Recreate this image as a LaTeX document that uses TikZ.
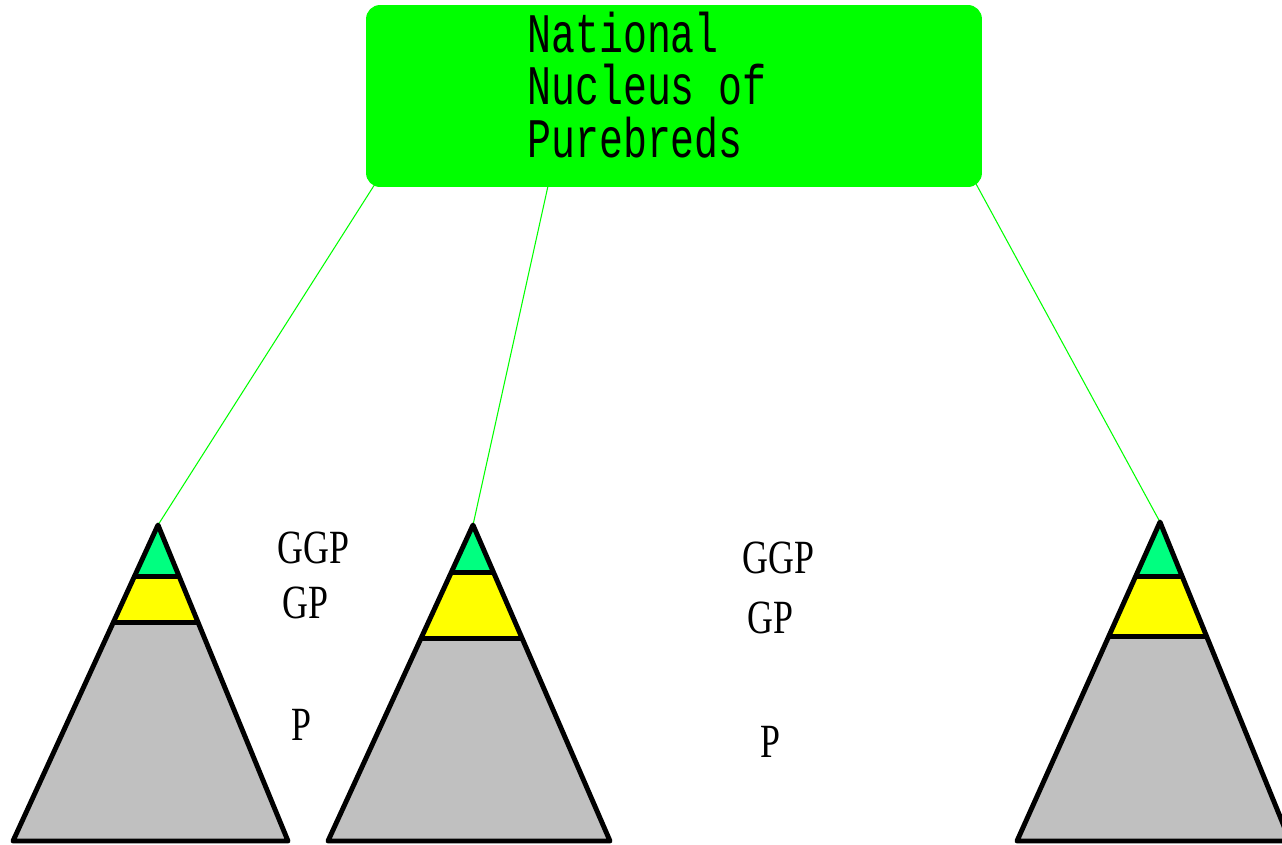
\documentclass[tikz,border=0pt]{standalone}
\usepackage{fontspec}
\setmainfont{Liberation Serif}
\newfontfamily\monof{Liberation Mono}
\usetikzlibrary{calc}
\definecolor{pgreen}{RGB}{0,255,0}
\definecolor{sgreen}{RGB}{0,255,128}
\definecolor{pyellow}{RGB}{255,255,0}
\definecolor{pgray}{RGB}{192,192,192}
\newcommand\pyramid[5]{%
  \fill[pgray] (#2) -- (#3) -- (#1) -- cycle;
  \fill[pyellow] ($(#1)!#5!(#2)$) -- ($(#1)!#5!(#3)$) -- (#1) -- cycle;
  \fill[sgreen] ($(#1)!#4!(#2)$) -- ($(#1)!#4!(#3)$) -- (#1) -- cycle;
  \draw[outline] ($(#1)!#4!(#2)$) -- ($(#1)!#4!(#3)$);
  \draw[outline] ($(#1)!#5!(#2)$) -- ($(#1)!#5!(#3)$);
  \draw[outline] (#1) -- (#2) -- (#3) -- cycle;
}
\begin{document}
\begin{tikzpicture}[x=0.02cm,y=-0.02cm,
  nucleus/.style={fill=pgreen, draw=none, rounded corners=0.28cm, minimum width=12.32cm, minimum height=3.64cm, inner sep=0pt},
  link/.style={draw=pgreen, line width=0.6pt},
  outline/.style={draw=black, line width=2.8pt, line join=round},
  boxtext/.style={font=\monof\fontsize{22.7}{27}\selectfont, anchor=base west, inner sep=0pt},
  lvl/.style={font=\fontsize{20.4}{24}\selectfont, anchor=base west, inner sep=0pt}]
\useasboundingbox (0,0) rectangle (1282,845);
\clip (0,0) rectangle (1282,845);

\node[nucleus] (nuc) at (674,96) {};
\node[boxtext] (t1) at (527,52) {\scalebox{1}[1.4]{National}};
\node[boxtext] (t2) at (527,104) {\scalebox{1}[1.4]{Nucleus of}};
\node[boxtext] (t3) at (527,157) {\scalebox{1}[1.4]{Purebreds}};

\coordinate (c1) at (375,184);
\coordinate (c2) at (548,186);
\coordinate (c3) at (975,182);

\coordinate (A1) at (158,525); \coordinate (L1) at (13,841); \coordinate (R1) at (288,841);
\coordinate (A2) at (473,525); \coordinate (L2) at (328,841); \coordinate (R2) at (610,841);
\coordinate (A3) at (1160,522); \coordinate (L3) at (1017,841); \coordinate (R3) at (1290,841);

\draw[link] (c1) -- (A1);
\draw[link] (c2) -- (A2);
\draw[link] (c3) -- (A3);

\pyramid{A1}{L1}{R1}{0.162}{0.308}
\pyramid{A2}{L2}{R2}{0.149}{0.359}
\pyramid{A3}{L3}{R3}{0.17}{0.358}

\node[lvl] (g1) at (277,563) {\scalebox{1}[1.33]{GGP}};
\node[lvl] (g2) at (282,618) {\scalebox{1}[1.33]{GP}};
\node[lvl] (g3) at (291,740) {\scalebox{1}[1.33]{P}};
\node[lvl] (h1) at (742,573) {\scalebox{1}[1.33]{GGP}};
\node[lvl] (h2) at (747,633) {\scalebox{1}[1.33]{GP}};
\node[lvl] (h3) at (760,757) {\scalebox{1}[1.33]{P}};
\end{tikzpicture}
\end{document}
